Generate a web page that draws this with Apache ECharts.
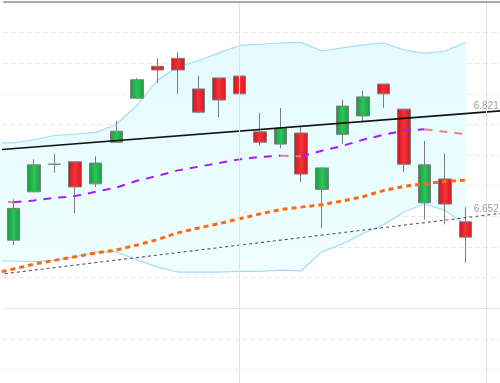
<!DOCTYPE html>
<html><head><meta charset="utf-8">
<script src="https://cdn.jsdelivr.net/npm/echarts@6/dist/echarts.min.js"></script>
<style>html,body{margin:0;padding:0;background:#fff;overflow:hidden;width:500px;height:383px}#c{width:517px;height:400px}</style>
</head><body><div id="c"></div>
<script>
// ---- data ----
const categories = ['1','2','3','4','5','6','7','8','9','10','11','12','13','14','15','16','17','18','19','20','21','22','23','24','25'];
const openVals  = [6.611, 6.690, 6.735, 6.739, 6.703, 6.771, 6.843, 6.895, 6.908, 6.858, 6.876, 6.879, 6.788, 6.768, 6.786, 6.694, 6.784, 6.814, 6.866, 6.825, 6.672, 6.711, 6.641];
const closeVals = [6.663, 6.734, 6.735, 6.698, 6.737, 6.789, 6.873, 6.889, 6.889, 6.820, 6.840, 6.850, 6.771, 6.794, 6.719, 6.729, 6.830, 6.845, 6.850, 6.735, 6.734, 6.670, 6.616];
const lowVals   = [6.603, 6.689, 6.721, 6.655, 6.698, 6.770, 6.842, 6.868, 6.850, 6.819, 6.812, 6.817, 6.766, 6.761, 6.706, 6.631, 6.768, 6.806, 6.827, 6.722, 6.645, 6.637, 6.574];
const highVals  = [6.678, 6.743, 6.752, 6.739, 6.748, 6.806, 6.876, 6.908, 6.918, 6.879, 6.876, 6.879, 6.819, 6.827, 6.796, 6.730, 6.840, 6.855, 6.866, 6.825, 6.773, 6.753, 6.665];

// indicator x positions (bar index; -1 is the bar before the first visible one)
const indX = [-1,0,1,2,3,4,5,6,7,8,9,10,11,12,13,14,15,16,17,18,19,20,21,22];
const bollUpper = [6.770, 6.770, 6.775, 6.782, 6.784, 6.787, 6.800, 6.831, 6.872, 6.894, 6.904, 6.917, 6.929, 6.931, 6.933, 6.934, 6.920, 6.925, 6.930, 6.933, 6.922, 6.916, 6.920, 6.934];
const bollLower = [6.577, 6.577, 6.576, 6.578, 6.584, 6.592, 6.592, 6.579, 6.567, 6.559, 6.559, 6.559, 6.560, 6.560, 6.562, 6.561, 6.592, 6.605, 6.622, 6.636, 6.657, 6.670, 6.660, 6.636];
const maShort = [6.675, 6.673, 6.676, 6.680, 6.683, 6.690, 6.697, 6.708, 6.716, 6.725, 6.731, 6.737, 6.743, 6.747, 6.749, 6.748, 6.757, 6.765, 6.775, 6.783, 6.790, 6.792, 6.788, 6.784];
const maLong  = [6.556, 6.564, 6.572, 6.578, 6.584, 6.590, 6.595, 6.603, 6.612, 6.623, 6.631, 6.638, 6.646, 6.654, 6.661, 6.665, 6.669, 6.675, 6.682, 6.692, 6.699, 6.703, 6.707, 6.709];

const trendX = [-1, 24];
const trendUpper = [6.758, 6.823];
const trendLower = [6.554, 6.656];
const labelX = 23;
const labelVals = [6.821, 6.652];
const vLines = [11, 23];
const yTicks = {min: 6.35, max: 7.0, interval: 0.05};
const solidLevels = [6.50];
const topLevel = 7.00;

// ---- build ----
const candleData = openVals.map((o, i) => [o, closeVals[i], lowVals[i], highVals[i]]);
const pair = (xs, ys) => xs.map((x, i) => [x, ys[i]]);
const bandData = indX.map((x, i) => [x, bollUpper[i], bollLower[i]]);

function splitRuns(xs, ys) {
  const up = [], down = [];
  let i = 1;
  while (i < xs.length) {
    const dir = ys[i] >= ys[i - 1];
    const target = dir ? up : down;
    target.push([xs[i - 1], ys[i - 1]]);
    while (i < xs.length && (ys[i] >= ys[i - 1]) === dir) { target.push([xs[i], ys[i]]); i++; }
    target.push([xs[i - 1] + 0.001, '-']);
  }
  return {up, down};
}
const maRuns = splitRuns(indX, maShort);

const green = new echarts.graphic.LinearGradient(0, 0, 1, 0, [
  {offset: 0, color: '#159a3c'}, {offset: 0.5, color: '#2fc25c'}, {offset: 1, color: '#17a040'}]);
const red = new echarts.graphic.LinearGradient(0, 0, 1, 0, [
  {offset: 0, color: '#d4101a'}, {offset: 0.5, color: '#f2333a'}, {offset: 1, color: '#d9141c'}]);

const chart = echarts.init(document.getElementById('c'), null, {renderer: 'canvas'});
chart.setOption({
  animation: false,
  backgroundColor: '#ffffff',
  grid: {left: 3.24, right: 0, top: 2, bottom: 0, containLabel: false},
  xAxis: [
    {type: 'category', data: categories, boundaryGap: true, show: false},
    {type: 'value', min: -0.5, max: categories.length - 0.5, show: false}
  ],
  yAxis: {
    type: 'value', min: yTicks.min, max: yTicks.max, interval: yTicks.interval,
    axisLine: {show: false}, axisTick: {show: false}, axisLabel: {show: false},
    splitLine: {show: true, lineStyle: {color: '#e4e4e4', width: 1, type: [4, 4]}}
  },
  series: [
    {
      name: 'bbFill', type: 'custom', xAxisIndex: 1, data: bandData, z: 1, silent: true,
      encode: {x: 0, y: [1, 2]},
      renderItem: function (params, api) {
        if (params.dataIndex !== 0) return null;
        const top = bandData.map(d => api.coord([d[0], d[1]]));
        const bot = bandData.map(d => api.coord([d[0], d[2]])).reverse();
        return {
          type: 'polygon', shape: {points: top.concat(bot)},
          style: {fill: new echarts.graphic.LinearGradient(0, 0, 0, 1, [
            {offset: 0, color: '#e3fbff'}, {offset: 1, color: '#effeff'}]), stroke: null}
        };
      }
    },
    {
      name: 'guides', type: 'line', xAxisIndex: 1, data: [], silent: true,
      markLine: {
        silent: true, symbol: 'none', label: {show: false}, animation: false,
        data: [
          ...vLines.map(v => ({xAxis: v, lineStyle: {color: '#e2e2e2', width: 1, type: 'solid'}})),
          ...solidLevels.map(v => ({yAxis: v, lineStyle: {color: '#e6e6e6', width: 1, type: 'solid'}})),
          {yAxis: topLevel, lineStyle: {color: '#a8a8a8', width: 2, type: 'solid'}}
        ]
      }
    },
    {
      name: 'bbLower', type: 'line', xAxisIndex: 1, data: pair(indX, bollLower),
      symbol: 'none', z: 1, lineStyle: {color: '#a6dbf6', width: 1.2}
    },
    {
      name: 'bbUpper', type: 'line', xAxisIndex: 1, data: pair(indX, bollUpper),
      symbol: 'none', z: 1, lineStyle: {color: '#a6dbf6', width: 1.2}
    },
    {
      name: 'candles', type: 'candlestick', xAxisIndex: 0, data: candleData, barWidth: 13, z: 2,
      itemStyle: {color: green, color0: red, borderColor: '#7d7d7d', borderColor0: '#7d7d7d', borderWidth: 1}
    },
    {
      name: 'maLong', type: 'line', xAxisIndex: 1, data: pair(indX, maLong), symbol: 'none', z: 3,
      lineStyle: {color: '#ff6a10', width: 3, type: [5, 4]}
    },
    {
      name: 'maShortUp', type: 'line', xAxisIndex: 1, data: maRuns.up, symbol: 'none', z: 3, connectNulls: false,
      lineStyle: {color: '#a41cff', width: 2, type: [8, 7]}
    },
    {
      name: 'maShortDown', type: 'line', xAxisIndex: 1, data: maRuns.down, symbol: 'none', z: 3, connectNulls: false,
      lineStyle: {color: '#e8837c', width: 2, type: [8, 7]}
    },
    {
      name: 'trendUpper', type: 'line', xAxisIndex: 1, data: pair(trendX, trendUpper), symbol: 'none', z: 4,
      lineStyle: {color: '#111111', width: 1.6, type: 'solid'}
    },
    {
      name: 'trendLower', type: 'line', xAxisIndex: 1, data: pair(trendX, trendLower), symbol: 'none', z: 4,
      lineStyle: {color: '#555555', width: 1.1, type: [3, 3]}
    },
    {
      name: 'levels', type: 'scatter', xAxisIndex: 1, data: labelVals.map(v => [labelX, v]),
      symbolSize: 1, itemStyle: {color: 'rgba(0,0,0,0)'}, z: 5,
      label: {show: true, position: 'top', distance: 0, color: '#858585', fontSize: 10,
        fontFamily: 'Liberation Sans', formatter: p => p.value[1].toFixed(3)}
    }
  ]
});
</script>
</body></html>
